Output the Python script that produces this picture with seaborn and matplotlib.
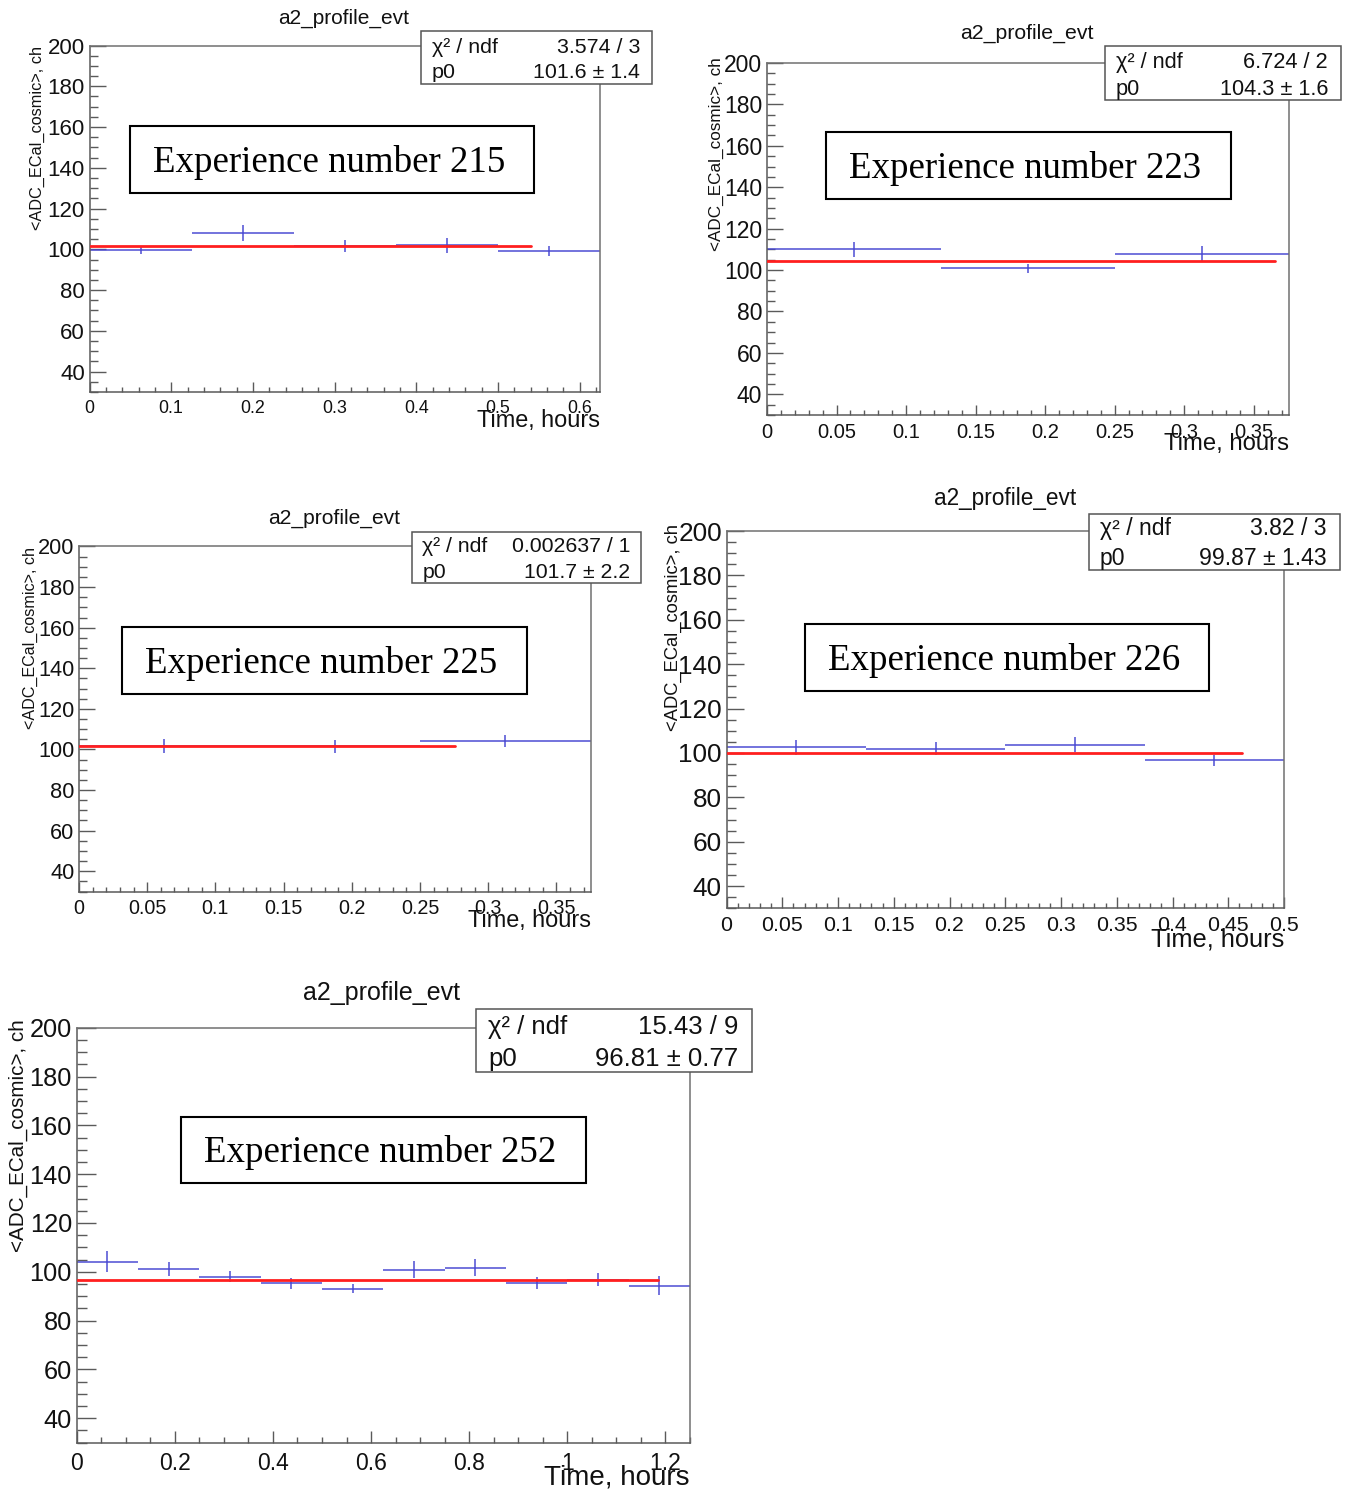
import numpy as np
import pandas as pd
import matplotlib
matplotlib.use("Agg")
import matplotlib.pyplot as plt
from matplotlib.patches import Rectangle
from matplotlib.ticker import MultipleLocator, FuncFormatter
import seaborn as sns

sns.set_theme(style="ticks")
plt.rcParams["font.family"] = ["Liberation Sans", "DejaVu Sans"]
plt.rcParams["axes.facecolor"] = "white"
plt.rcParams["figure.facecolor"] = "white"

W, H = 1351, 1495
BIN_WIDTH = 0.125  # hours per profile bin

# ---- run 215 ----
run215_mean = [99.6, 108.1, 101.7, 101.9, 99.1]
run215_err = [2.0, 3.8, 2.9, 3.7, 2.6]
run215_chi2, run215_ndf = 3.574, 3
run215_p0, run215_p0_err = 101.6, 1.4
run215_fit_end = 0.54

# ---- run 223 ----
run223_mean = [110.0, 100.8, 107.9]
run223_err = [3.5, 2.2, 3.6]
run223_chi2, run223_ndf = 6.724, 2
run223_p0, run223_p0_err = 104.3, 1.6
run223_fit_end = 0.365

# ---- run 225 ----
run225_mean = [101.7, 101.5, 104.0]
run225_err = [3.4, 3.3, 3.0]
run225_chi2, run225_ndf = 0.002637, 1
run225_p0, run225_p0_err = 101.7, 2.2
run225_fit_end = 0.276

# ---- run 226 ----
run226_mean = [102.6, 101.9, 103.8, 96.6]
run226_err = [3.4, 3.0, 3.6, 2.4]
run226_chi2, run226_ndf = 3.82, 3
run226_p0, run226_p0_err = 99.87, 1.43
run226_fit_end = 0.462

# ---- run 252 ----
run252_mean = [104.2, 101.3, 98.0, 95.3, 93.1, 100.9, 101.7, 95.4, 96.7, 94.3]
run252_err = [4.4, 2.9, 2.2, 2.3, 1.8, 3.5, 3.6, 2.5, 2.7, 3.8]
run252_chi2, run252_ndf = 15.43, 9
run252_p0, run252_p0_err = 96.81, 0.77
run252_fit_end = 1.185

Y_LABEL = "<ADC_ECal_cosmic>, ch"
X_LABEL = "Time, hours"
TITLE = "a2_profile_evt"

BLUE = "#4646d2"
RED = "#ff1f1f"
FRAME = "#5a5a5a"
INK = "#111111"

panels = [
    dict(run="215", mean=run215_mean, err=run215_err, chi2=run215_chi2, ndf=run215_ndf,
         p0=run215_p0, p0e=run215_p0_err, fit_end=run215_fit_end,
         xmax=0.625, xmaj=0.1, xmin=0.02,
         ax=(89.5, 45.5, 600, 392), ytick=16.0, xtick=12.9, xpad=5.5,
         title=(343.5, 18, 15.0), xlab=(421, 16.9), ylab=(37, 45.5, 11.7),
         stats=(421, 30.7, 651.5, 83.5), rows=(45, 70), sx=(432, 640), ssize=15.4,
         exp=(129.7, 126, 534, 192.7)),
    dict(run="223", mean=run223_mean, err=run223_err, chi2=run223_chi2, ndf=run223_ndf,
         p0=run223_p0, p0e=run223_p0_err, fit_end=run223_fit_end,
         xmax=0.375, xmaj=0.05, xmin=0.01,
         ax=(767, 63, 1288.5, 415), ytick=16.5, xtick=14.5, xpad=5.5,
         title=(1026.7, 33, 15.3), xlab=(444, 17.2), ylab=(716, 57, 12.3),
         stats=(1105, 46, 1341, 100), rows=(60, 86.7), sx=(1116, 1328), ssize=15.7,
         exp=(826, 132.3, 1230.7, 199)),
    dict(run="225", mean=run225_mean, err=run225_err, chi2=run225_chi2, ndf=run225_ndf,
         p0=run225_p0, p0e=run225_p0_err, fit_end=run225_fit_end,
         xmax=0.375, xmaj=0.05, xmin=0.01,
         ax=(79, 546.5, 590.5, 891.5), ytick=15.7, xtick=14.2, xpad=5.5,
         title=(334, 518, 15.1), xlab=(921, 16.9), ylab=(30.5, 547, 11.6),
         stats=(411.5, 531.7, 641, 583.3), rows=(544, 570.5), sx=(422.5, 630.5), ssize=15.3,
         exp=(122, 627, 526.5, 694)),
    dict(run="226", mean=run226_mean, err=run226_err, chi2=run226_chi2, ndf=run226_ndf,
         p0=run226_p0, p0e=run226_p0_err, fit_end=run226_fit_end,
         xmax=0.5, xmaj=0.05, xmin=0.01,
         ax=(726.5, 531, 1284, 908.3), ytick=18.8, xtick=15.4, xpad=5.5,
         title=(1004.6, 499, 16.3), xlab=(940, 18.3), ylab=(673, 524, 13.2),
         stats=(1089, 513.5, 1340, 570), rows=(527, 557), sx=(1100, 1327), ssize=16.6,
         exp=(805, 624, 1209, 691)),
    dict(run="252", mean=run252_mean, err=run252_err, chi2=run252_chi2, ndf=run252_ndf,
         p0=run252_p0, p0e=run252_p0_err, fit_end=run252_fit_end,
         xmax=1.25, xmaj=0.2, xmin=0.05,
         ax=(76.7, 1027.7, 690, 1442.7), ytick=18.3, xtick=16.5, xpad=6.5,
         title=(382, 993, 18.0), xlab=(1477, 20.0), ylab=(18, 1019, 14.9),
         stats=(475.7, 1008.5, 751.5, 1071.5), rows=(1025, 1057), sx=(488, 738), ssize=18.5,
         exp=(181, 1116.7, 586, 1183.3)),
]

fig = plt.figure(figsize=(W / 100, H / 100), dpi=100)


def fx(x):
    return x / W


def fy(y):
    return 1 - y / H


def cap_text(x, ycap, s, size, ha="left", cap=0.358, **kw):
    """Place text so that the middle of its capital letters sits at ycap (px from top)."""
    base = ycap + cap * size * 100 / 72
    fig.text(fx(x), fy(base), s, fontsize=size, ha=ha, va="baseline", **kw)


tick_fmt = FuncFormatter(lambda v, pos: f"{round(v, 6):g}")

for p in panels:
    l, t, r, b = p["ax"]
    ax = fig.add_axes([fx(l), fy(b), (r - l) / W, (b - t) / H])
    ax.set_facecolor("white")
    ax.grid(False)

    n = len(p["mean"])
    centers = (np.arange(n) + 0.5) * BIN_WIDTH
    ax.errorbar(centers, p["mean"], xerr=BIN_WIDTH / 2, yerr=p["err"], fmt="none",
                ecolor=BLUE, elinewidth=1.25, capsize=0, alpha=0.85, zorder=2)

    fit = pd.DataFrame({"time": [0.0, p["fit_end"]], "adc": [p["p0"], p["p0"]]})
    sns.lineplot(data=fit, x="time", y="adc", ax=ax, color=RED, linewidth=2.0, zorder=3)

    ax.set_xlim(0, p["xmax"])
    ax.set_ylim(30, 200)
    ax.set_xlabel("")
    ax.set_ylabel("")
    ax.xaxis.set_major_locator(MultipleLocator(p["xmaj"]))
    ax.xaxis.set_minor_locator(MultipleLocator(p["xmin"]))
    ax.yaxis.set_major_locator(MultipleLocator(20))
    ax.yaxis.set_minor_locator(MultipleLocator(5))
    ax.xaxis.set_major_formatter(tick_fmt)

    wpx, hpx = r - l, b - t
    ymaj = 0.031 * wpx * 0.72
    xmaj = 0.029 * hpx * 0.72
    ax.tick_params(axis="y", which="major", direction="in", length=ymaj, width=1.0,
                   color=FRAME, labelsize=p["ytick"], pad=3.4, left=True, right=False)
    ax.tick_params(axis="y", which="minor", direction="in", length=ymaj / 2, width=1.0,
                   color=FRAME, left=True, right=False)
    ax.tick_params(axis="x", which="major", direction="in", length=xmaj, width=1.0,
                   color=FRAME, labelsize=p["xtick"], pad=p["xpad"], bottom=True, top=False)
    ax.tick_params(axis="x", which="minor", direction="in", length=xmaj / 2, width=1.0,
                   color=FRAME, bottom=True, top=False)
    for side in ["left", "bottom", "top", "right"]:
        ax.spines[side].set_visible(True)
        ax.spines[side].set_color(FRAME if side in ("left", "bottom") else "#707070")
        ax.spines[side].set_linewidth(1.1)
    for lab in ax.get_xticklabels() + ax.get_yticklabels():
        lab.set_color(INK)

    # title, axis titles
    tx, ty, ts = p["title"]
    fig.text(fx(tx), fy(ty), TITLE, fontsize=ts, ha="center", va="center", color=INK)
    xly, xls = p["xlab"]
    fig.text(fx(r), fy(xly), X_LABEL, fontsize=xls, ha="right", va="center", color=INK)
    ylx, yly, yls = p["ylab"]
    fig.text(fx(ylx), fy(yly), Y_LABEL, fontsize=yls, rotation=90, ha="center", va="top",
             color=INK)

    # fit statistics box
    x0, y0, x1, y1 = p["stats"]
    fig.add_artist(Rectangle((fx(x0), fy(y1)), (x1 - x0) / W, (y1 - y0) / H,
                             transform=fig.transFigure, facecolor="white",
                             edgecolor="#555555", linewidth=1.1, zorder=10))
    r1, r2 = p["rows"]
    sl, sr = p["sx"]
    ss = p["ssize"]
    cap_text(sl, r1, "χ² / ndf", ss, ha="left", zorder=11, color=INK)
    cap_text(sr, r1, f"{p['chi2']:g} / {p['ndf']}", ss, ha="right", zorder=11, color=INK)
    cap_text(sl, r2, "p0", ss, ha="left", zorder=11, color=INK)
    cap_text(sr, r2, f"{p['p0']:g} ± {p['p0e']:g}", ss, ha="right", zorder=11, color=INK)

    # run annotation box
    e0, e1, e2, e3 = p["exp"]
    fig.add_artist(Rectangle((fx(e0), fy(e3)), (e2 - e0) / W, (e3 - e1) / H,
                             transform=fig.transFigure, facecolor="white",
                             edgecolor="black", linewidth=1.5, zorder=10))
    ecx = (e0 + e2) / 2 - 3
    ecy = (e1 + e3) / 2
    cap_text(ecx, ecy, f"Experience number {p['run']}", 26.6, ha="center", cap=0.331,
             family="Liberation Serif", zorder=11, color="black")

fig.savefig("out.png", dpi=100, facecolor="white")
